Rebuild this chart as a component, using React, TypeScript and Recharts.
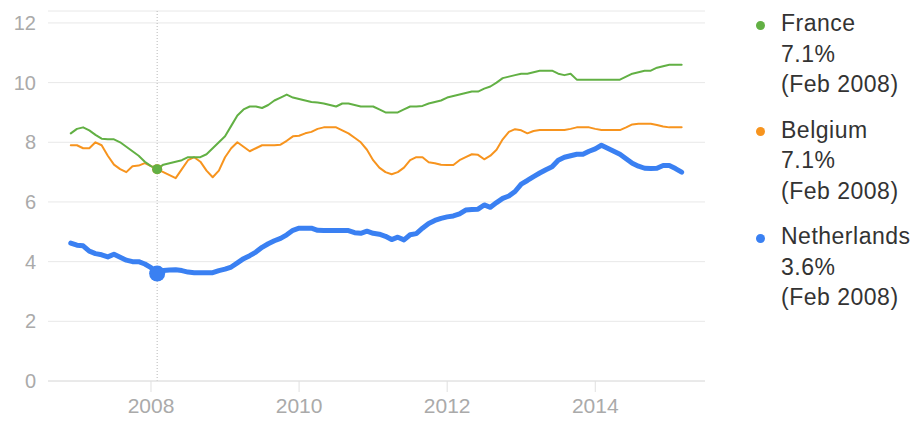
import React from 'react';
import { LineChart, Line, XAxis, YAxis, CartesianGrid, ReferenceLine, ReferenceDot } from 'recharts';

// Monthly series, starting Dec 2006, ending Mar 2015
const startYear = 2006;
const startMonth = 12; // December
const monthNames = ['Jan', 'Feb', 'Mar', 'Apr', 'May', 'Jun', 'Jul', 'Aug', 'Sep', 'Oct', 'Nov', 'Dec'];

const france = [
  8.3, 8.45, 8.5, 8.4, 8.25, 8.12, 8.1, 8.1, 8.0, 7.85,
  7.7, 7.55, 7.35, 7.2, 7.1, 7.25, 7.3, 7.35, 7.4, 7.5,
  7.5, 7.5, 7.6, 7.8, 8.0, 8.2, 8.55, 8.9, 9.1, 9.2,
  9.2, 9.15, 9.25, 9.4, 9.5, 9.6, 9.5, 9.45, 9.4, 9.35,
  9.33, 9.3, 9.25, 9.2, 9.3, 9.3, 9.25, 9.2, 9.2, 9.2,
  9.1, 9.0, 9.0, 9.0, 9.1, 9.2, 9.2, 9.22, 9.3, 9.35,
  9.4, 9.5, 9.55, 9.6, 9.65, 9.7, 9.7, 9.8, 9.87, 10.0,
  10.15, 10.2, 10.25, 10.3, 10.3, 10.35, 10.4, 10.4, 10.4, 10.3,
  10.25, 10.3, 10.1, 10.1, 10.1, 10.1, 10.1, 10.1, 10.1, 10.1,
  10.2, 10.3, 10.35, 10.4, 10.4, 10.5, 10.55, 10.6, 10.6, 10.6,
];

const belgium = [
  7.9, 7.9, 7.8, 7.8, 8.0, 7.9, 7.55, 7.25, 7.1, 7.0,
  7.2, 7.22, 7.3, 7.2, 7.1, 7.0, 6.9, 6.8, 7.1, 7.4,
  7.5, 7.35, 7.05, 6.83, 7.05, 7.5, 7.8, 8.0, 7.85, 7.7,
  7.8, 7.9, 7.9, 7.9, 7.92, 8.05, 8.2, 8.22, 8.3, 8.35,
  8.45, 8.5, 8.5, 8.5, 8.4, 8.3, 8.15, 8.0, 7.75, 7.4,
  7.15, 7.0, 6.93, 7.0, 7.15, 7.4, 7.5, 7.5, 7.33, 7.3,
  7.25, 7.24, 7.24, 7.4, 7.5, 7.6, 7.58, 7.43, 7.55, 7.75,
  8.1, 8.35, 8.44, 8.4, 8.3, 8.38, 8.41, 8.41, 8.41, 8.41,
  8.41, 8.45, 8.5, 8.5, 8.5, 8.45, 8.41, 8.41, 8.41, 8.41,
  8.5, 8.6, 8.62, 8.62, 8.62, 8.58, 8.53, 8.5, 8.5, 8.5,
];

const netherlands = [
  4.62, 4.55, 4.53, 4.35, 4.27, 4.23, 4.16, 4.25, 4.15, 4.05,
  4.0, 4.0, 3.92, 3.8, 3.6, 3.7, 3.72, 3.73, 3.7, 3.65,
  3.63, 3.63, 3.63, 3.63, 3.7, 3.75, 3.82, 3.96, 4.1, 4.2,
  4.32, 4.48, 4.6, 4.7, 4.78, 4.9, 5.05, 5.12, 5.12, 5.12,
  5.05, 5.04, 5.04, 5.04, 5.04, 5.04, 4.97, 4.95, 5.02, 4.95,
  4.92, 4.85, 4.74, 4.82, 4.73, 4.9, 4.94, 5.12, 5.28, 5.38,
  5.45, 5.5, 5.53, 5.6, 5.73, 5.75, 5.76, 5.9, 5.82, 5.98,
  6.12, 6.2, 6.35, 6.6, 6.72, 6.85, 6.97, 7.08, 7.18, 7.4,
  7.5, 7.55, 7.6, 7.6, 7.7, 7.78, 7.9, 7.8, 7.7, 7.6,
  7.45, 7.3, 7.2, 7.13, 7.12, 7.13, 7.22, 7.22, 7.12, 7.0,
];

const yTicks = [0, 2, 4, 6, 8, 10, 12];
const xTicks = [2008, 2010, 2012, 2014];
const highlightIndex = 14; // Feb 2008

const series = [
  { key: 'belgium', name: 'Belgium', values: belgium, color: '#f7941e', width: 2, dotR: 5 },
  { key: 'france', name: 'France', values: france, color: '#62b044', width: 2, dotR: 5 },
  { key: 'netherlands', name: 'Netherlands', values: netherlands, color: '#3a80f2', width: 5, dotR: 8 },
];
const legendOrder = ['france', 'belgium', 'netherlands'];

const data = france.map((_, i) => {
  const m = startMonth - 1 + i;
  return {
    t: startYear + m / 12,
    label: `${monthNames[m % 12]} ${startYear + Math.floor(m / 12)}`,
    france: france[i],
    belgium: belgium[i],
    netherlands: netherlands[i],
  };
});

const highlight = data[highlightIndex];
const FONT = '"Liberation Sans", Arial, sans-serif';

export default function App() {
  return (
    <div style={{ position: 'absolute', left: 0, top: 0, width: 923, height: 425, fontFamily: FONT, background: '#fff' }}>
      <LineChart
        width={923}
        height={425}
        data={data}
        margin={{ top: 11, right: 218, left: 0, bottom: 0 }}
      >
        <CartesianGrid vertical={false} stroke="#e8e8e8" />
        <XAxis
          type="number"
          dataKey="t"
          domain={[2006.609, 2015.482]}
          allowDataOverflow
          ticks={xTicks}
          tickFormatter={(v) => String(v)}
          height={44}
          tickSize={11}
          tickMargin={6}
          axisLine={{ stroke: '#e0e0e0' }}
          tickLine={{ stroke: '#e0e0e0' }}
          tick={{ fill: '#aaaaaa', fontSize: 21, fontFamily: FONT }}
        />
        <YAxis
          type="number"
          domain={[0, 12.4]}
          ticks={yTicks}
          width={48}
          axisLine={false}
          tickLine={false}
          tickSize={0}
          tickMargin={12}
          tick={{ fill: '#aaaaaa', fontSize: 20, fontFamily: FONT }}
        />
        <ReferenceLine x={highlight.t} stroke="#b8b8b8" strokeDasharray="1 2" strokeWidth={1} />
        {series.map((s) => (
          <Line
            key={s.key}
            type="linear"
            dataKey={s.key}
            stroke={s.color}
            strokeWidth={s.width}
            dot={false}
            activeDot={false}
            isAnimationActive={false}
            strokeLinejoin="round"
            strokeLinecap="round"
          />
        ))}
        {series.map((s) => (
          <ReferenceDot
            key={'dot-' + s.key}
            x={highlight.t}
            y={s.values[highlightIndex]}
            r={s.dotR}
            fill={s.color}
            stroke="none"
          />
        ))}
      </LineChart>
      <div style={{ position: 'absolute', left: 0, top: 0 }}>
        {legendOrder.map((k, idx) => {
          const s = series.find((x) => x.key === k)!;
          const top = 8 + idx * 106.5;
          return (
            <div key={k} style={{ position: 'absolute', left: 0, top: 0 }}>
              <div
                style={{
                  position: 'absolute',
                  left: 755.5,
                  top: top + 12.5,
                  width: 9,
                  height: 9,
                  borderRadius: '50%',
                  background: s.color,
                }}
              />
              <div
                style={{
                  position: 'absolute',
                  left: 781,
                  top,
                  fontSize: 23,
                  letterSpacing: 0.5,
                  lineHeight: '30.5px',
                  color: '#333',
                  whiteSpace: 'nowrap',
                  fontFamily: FONT,
                }}
              >
                <div>{s.name}</div>
                <div>{s.values[highlightIndex].toFixed(1)}%</div>
                <div>({highlight.label})</div>
              </div>
            </div>
          );
        })}
      </div>
    </div>
  );
}
